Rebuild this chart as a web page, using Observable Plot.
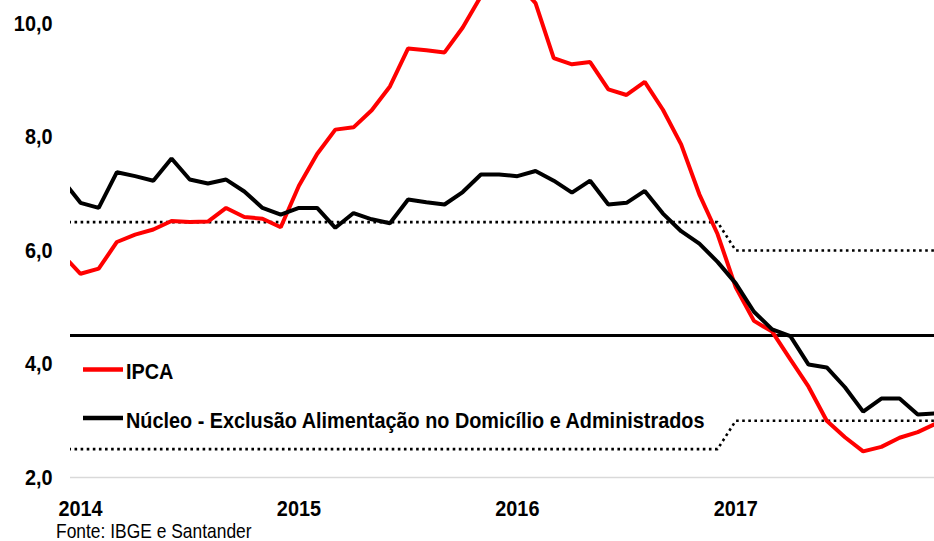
<!DOCTYPE html>
<html>
<head>
<meta charset="utf-8">
<script src="https://cdn.jsdelivr.net/npm/d3@7"></script>
<script src="https://cdn.jsdelivr.net/npm/@observablehq/plot@0.6"></script>
<style>
  html, body { margin: 0; padding: 0; background: #fff; overflow: hidden; }
  #wrap { position: relative; width: 934px; height: 541px; }
  #overlay { position: absolute; left: 0; top: 0; }
</style>
</head>
<body>
<div id="wrap">
  <div id="chart"></div>
  <svg id="overlay" width="934" height="541"></svg>
</div>
<script>
// Months: Dec 2013 .. Dec 2017 (index -1 = Dec 2013, 0 = Jan 2014)
const yearLabels = ["2014", "2015", "2016", "2017"];
const yTicks = [2, 4, 6, 8, 10];

// IPCA, 12-month % (Dec 2013 .. Dec 2017)
const ipca = [5.93,
  5.59, 5.68, 6.15, 6.28, 6.37, 6.52, 6.50, 6.51, 6.75, 6.59, 6.56, 6.41,
  7.14, 7.70, 8.13, 8.17, 8.47, 8.89, 9.56, 9.53, 9.49, 9.93, 10.48, 10.67,
  10.71, 10.36, 9.39, 9.28, 9.32, 8.84, 8.74, 8.97, 8.48, 7.87, 6.99, 6.29,
  5.35, 4.76, 4.57, 4.08, 3.60, 3.00, 2.71, 2.46, 2.54, 2.70, 2.80, 2.95];

// Núcleo - Exclusão Alimentação no Domicílio e Administrados (Dec 2013 .. Dec 2017)
const nucleo = [7.25,
  6.84, 6.75, 7.38, 7.31, 7.23, 7.62, 7.25, 7.18, 7.25, 7.04, 6.75, 6.63,
  6.75, 6.75, 6.40, 6.66, 6.55, 6.48, 6.90, 6.85, 6.81, 7.03, 7.34, 7.34,
  7.31, 7.40, 7.23, 7.02, 7.23, 6.81, 6.84, 7.05, 6.65, 6.34, 6.12, 5.80,
  5.42, 4.92, 4.61, 4.49, 3.99, 3.94, 3.59, 3.16, 3.39, 3.39, 3.11, 3.13];

// Inflation target band by year
const metaYears = [2013, 2014, 2015, 2016, 2017];
const metaCentro = [4.5, 4.5, 4.5, 4.5, 4.5];
const metaTeto = [6.5, 6.5, 6.5, 6.5, 6.0];
const metaPiso = [2.5, 2.5, 2.5, 2.5, 3.0];

const series = [
  {name: "IPCA", color: "#ff0000"},
  {name: "Núcleo - Exclusão Alimentação no Domicílio e Administrados", color: "#000000"}
];
const captionText = "Fonte: IBGE e Santander";

const rows = ipca.map((v, k) => {
  const i = k - 1;                       // month index, 0 = Jan 2014
  const year = 2014 + Math.floor(i / 12);
  const yi = metaYears.indexOf(year);
  return {i, ipca: v, nucleo: nucleo[k], teto: metaTeto[yi], piso: metaPiso[yi]};
});

const FONT = '"Liberation Sans", Arial, sans-serif';

const chart = Plot.plot({
  width: 934,
  height: 521,
  marginLeft: 70,
  marginRight: 0,
  marginTop: 0,
  marginBottom: 44,
  style: {fontFamily: FONT, fontSize: "22px", fontWeight: "bold", color: "#000", background: "#fff"},
  x: {type: "linear", domain: [-0.55, 46.92]},
  y: {type: "linear", domain: [2, 10.405]},
  marks: [
    Plot.ruleY([yTicks[0]], {stroke: "#d9d9d9", strokeWidth: 1.5}),
    Plot.ruleY([metaCentro[metaCentro.length - 1]], {stroke: "#000", strokeWidth: 3}),
    Plot.line(rows, {x: "i", y: "teto", stroke: "#000", strokeWidth: 2.6,
      strokeDasharray: "2.6 3.5", strokeLinecap: "butt", clip: true}),
    Plot.line(rows, {x: "i", y: "piso", stroke: "#000", strokeWidth: 2.6,
      strokeDasharray: "2.6 3.5", strokeLinecap: "butt", clip: true}),
    Plot.line(rows, {x: "i", y: "ipca", stroke: series[0].color, strokeWidth: 4,
      strokeLinejoin: "miter", clip: true}),
    Plot.line(rows, {x: "i", y: "nucleo", stroke: series[1].color, strokeWidth: 4,
      strokeLinejoin: "miter", clip: true}),
    Plot.axisY({ticks: yTicks, tickSize: 0, tickPadding: 18, label: null,
      tickFormat: d => d.toFixed(1).replace(".", ","), fontSize: 22, fontWeight: "bold"}),
    Plot.axisX({ticks: yearLabels.map((_, k) => k * 12), tickSize: 0, tickPadding: 23, label: null,
      tickFormat: i => yearLabels[Math.round(i / 12)], fontSize: 22, fontWeight: "bold"})
  ]
});
document.getElementById("chart").appendChild(chart);

// Legend (inside plot area) and caption
const ov = d3.select("#overlay");
const legRows = [
  {s: series[0], y: 369.5},
  {s: series[1], y: 418}
];
legRows.forEach(r => {
  ov.append("line").attr("x1", 83).attr("x2", 123).attr("y1", r.y).attr("y2", r.y)
    .attr("stroke", r.s.color).attr("stroke-width", 4.5);
  ov.append("text").attr("class", "bold").attr("x", 126).attr("y", r.y + 9.8)
    .attr("font-family", FONT).attr("font-size", 22).attr("font-weight", "bold")
    .attr("fill", "#000").text(r.s.name);
});
const cap = ov.append("text").attr("x", 56).attr("y", 538)
  .attr("font-family", FONT).attr("font-size", 20).attr("fill", "#000").text(captionText);

// Emulate a narrow (condensed) typeface by compressing glyphs horizontally
function squeeze(t, factor) {
  const bb = t.getBBox();
  const anchor = getComputedStyle(t).textAnchor;
  const ax = anchor === "end" ? bb.x + bb.width : anchor === "middle" ? bb.x + bb.width / 2 : bb.x;
  const prev = t.getAttribute("transform") || "";
  t.setAttribute("transform", `${prev} translate(${ax},0) scale(${factor},1) translate(${-ax},0)`);
}
const longText = ov.selectAll("text.bold").nodes()[1];
const boldFactor = 579 / longText.getBBox().width;
const capFactor = 196 / cap.node().getBBox().width;
chart.querySelectorAll("text").forEach(t => squeeze(t, boldFactor));
ov.selectAll("text.bold").nodes().forEach(t => squeeze(t, boldFactor));
squeeze(cap.node(), capFactor);
</script>
</body>
</html>
